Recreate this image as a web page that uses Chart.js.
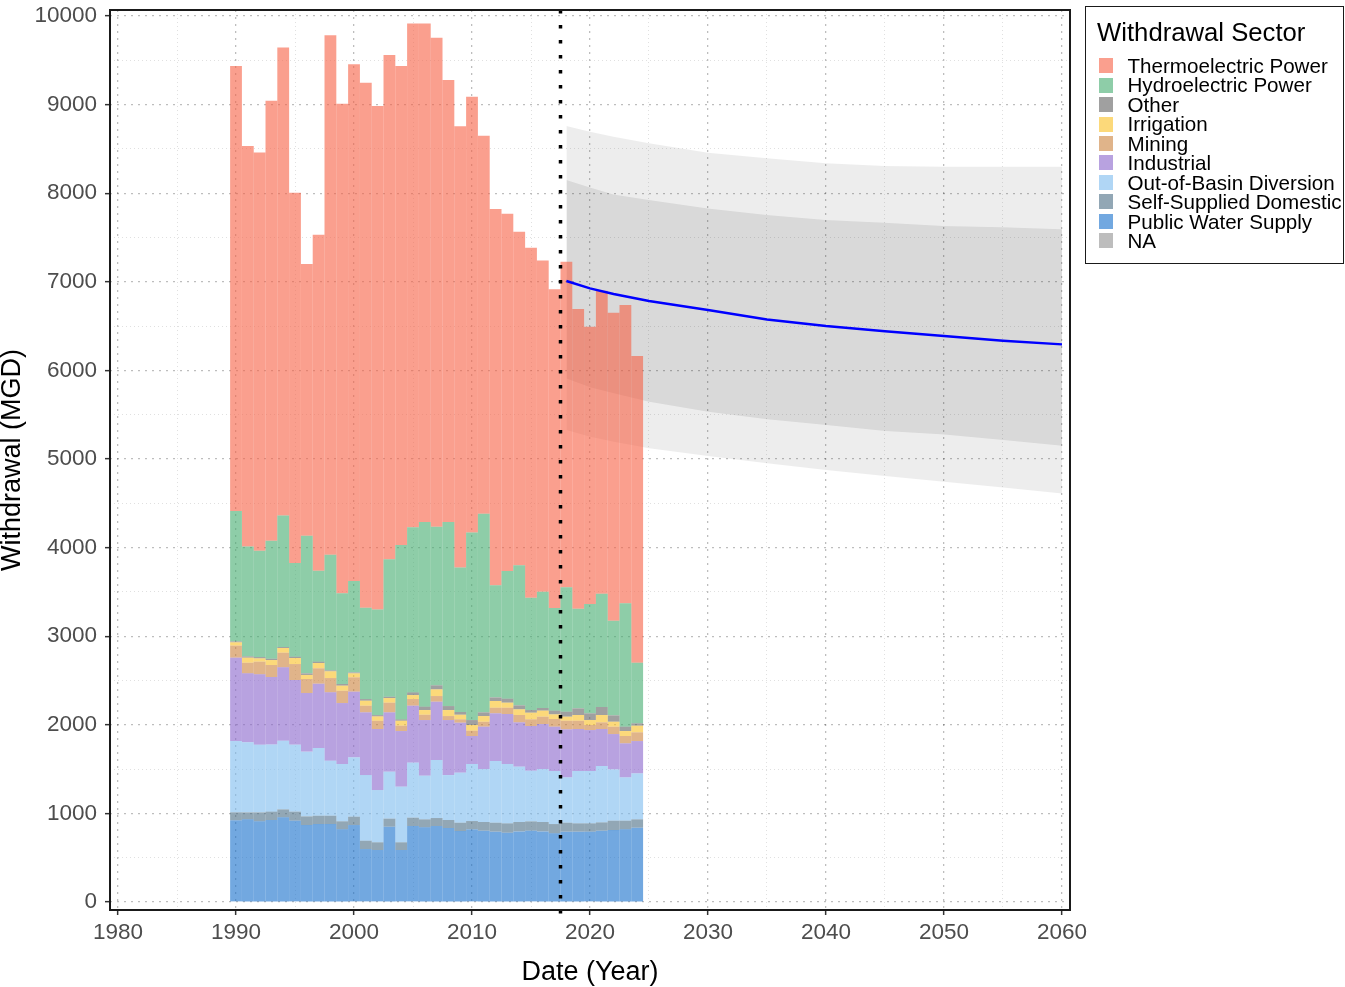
<!DOCTYPE html>
<html>
<head>
<meta charset="utf-8">
<title>Withdrawal by Sector</title>
<script src="https://cdn.jsdelivr.net/npm/chart.js@4.4.1/dist/chart.umd.min.js"></script>
<style>
    html, body { margin: 0; padding: 0; background: #fff; }
    #wrap { position: relative; width: 1345px; height: 987px; }
    #legend {
        position: absolute; left: 1085px; top: 6px;
        width: 259px; height: 258px; box-sizing: border-box;
        border: 1.5px solid #1a1a1a;
        font-family: "Liberation Sans", Arial, sans-serif; color: #000;
    }
    #legend .ttl { position: absolute; left: 11px; top: 10px; font-size: 25.7px; line-height: 30px; white-space: nowrap; }
    #legendItems { position: absolute; left: 0; top: 49px; margin: 0; padding: 0; list-style: none; }
    #legendItems li { position: relative; height: 19.44px; line-height: 19.44px; font-size: 20.6px; padding-left: 41.5px; white-space: nowrap; }
    #legendItems .key { position: absolute; left: 13px; top: 2.2px; width: 14px; height: 15px; }
</style>
</head>
<body>
<div id="wrap">
    <canvas id="withdrawalChart" width="1345" height="987"></canvas>
    <div id="legend">
        <div class="ttl">Withdrawal Sector</div>
        <ul id="legendItems"></ul>
    </div>
</div>
<script>
// Observed withdrawals by sector (MGD), one bar per year
const years = [1990, 1991, 1992, 1993, 1994, 1995, 1996, 1997, 1998, 1999,
               2000, 2001, 2002, 2003, 2004, 2005, 2006, 2007, 2008, 2009,
               2010, 2011, 2012, 2013, 2014, 2015, 2016, 2017, 2018, 2019,
               2020, 2021, 2022, 2023, 2024];

const publicSupply = [922, 933, 911, 926, 956, 918, 869, 880, 880, 820,
                      869, 598, 587, 850, 587, 858, 843, 858, 835, 801,
                      820, 805, 794, 782, 797, 805, 797, 775, 794, 794,
                      794, 805, 812, 820, 839];
const selfSupplied = [90, 79, 101, 94, 90, 102, 98, 94, 94, 91,
                      94, 94, 87, 91, 87, 94, 90, 90, 91, 94,
                      94, 98, 101, 106, 106, 105, 106, 105, 101, 94,
                      94, 94, 106, 98, 94];
const outOfBasin = [805, 790, 764, 759, 775, 756, 730, 764, 621, 647,
                    670, 741, 590, 530, 628, 621, 493, 655, 507, 565,
                    644, 598, 697, 670, 625, 572, 598, 599, 512, 591,
                    591, 636, 579, 489, 519];
const industrial = [941, 779, 794, 761, 828, 730, 662, 726, 772, 688,
                    741, 708, 689, 670, 628, 643, 628, 658, 621, 564,
                    316, 478, 538, 564, 500, 505, 508, 500, 542, 474,
                    462, 418, 399, 384, 365];
const mining = [136, 120, 143, 135, 165, 180, 158, 174, 161, 139,
                162, 75, 93, 109, 60, 75, 60, 64, 45, 38,
                60, 56, 63, 71, 83, 75, 83, 87, 97, 93,
                57, 75, 83, 83, 98];
const irrigation = [37, 57, 37, 56, 53, 68, 46, 60, 76, 57,
                    45, 56, 49, 52, 56, 45, 53, 75, 68, 52,
                    64, 64, 76, 57, 64, 75, 68, 52, 46, 65,
                    56, 83, 56, 56, 75];
const other = [11, 15, 15, 15, 11, 15, 18, 15, 11, 19,
               11, 19, 15, 15, 15, 30, 38, 46, 45, 31,
               56, 42, 41, 45, 45, 30, 30, 42, 56, 75,
               76, 90, 72, 49, 27];
const hydroelectric = [1471, 1241, 1200, 1332, 1486, 1057, 1553, 1027, 1305, 1023,
                       1031, 1031, 1193, 1551, 1968, 1863, 2084, 1790, 2077, 1632,
                       2118, 2242, 1264, 1441, 1580, 1268, 1313, 1158, 1404, 1125,
                       1233, 1279, 1068, 1392, 684];
const thermoelectric = [5023, 4519, 4496, 4966, 5282, 4180, 3067, 3792, 5862, 5526,
                        5832, 5925, 5681, 5692, 5407, 5688, 5628, 5519, 4989, 4978,
                        4917, 4266, 4248, 4033, 3766, 3950, 3739, 3597, 3675, 3382,
                        3130, 3420, 3476, 3367, 3462];
const notAssigned = [];

// Stacking order, bottom to top (NA has no values, legend only)
const sectorNames = ['NA', 'Public Water Supply', 'Self-Supplied Domestic', 'Out-of-Basin Diversion',
                     'Industrial', 'Mining', 'Irrigation', 'Other', 'Hydroelectric Power', 'Thermoelectric Power'];
const sectorValues = [notAssigned, publicSupply, selfSupplied, outOfBasin,
                      industrial, mining, irrigation, other, hydroelectric, thermoelectric];
const sectorColors = ['rgba(145,145,145,0.6)', 'rgba(20,110,203,0.6)', 'rgba(73,108,132,0.6)', 'rgba(123,187,238,0.6)',
                      'rgba(137,100,203,0.6)', 'rgba(203,130,60,0.6)', 'rgba(250,192,33,0.6)', 'rgba(97,97,97,0.6)',
                      'rgba(67,172,110,0.6)', 'rgba(247,95,67,0.6)'];

// Projection (median with 80% and 95% bands)
const forecastYears = [2018, 2020, 2022, 2025, 2030, 2035, 2040, 2045, 2050, 2055, 2060];
const forecastMedian = [7009, 6926, 6862, 6783, 6682, 6576, 6501, 6441, 6388, 6335, 6294];
const band80Hi = [8149, 8066, 7986, 7923, 7829, 7754, 7698, 7667, 7630, 7615, 7592];
const band80Lo = [5910, 5809, 5741, 5647, 5534, 5448, 5384, 5316, 5278, 5214, 5150];
const band95Hi = [8758, 8694, 8638, 8563, 8458, 8394, 8338, 8307, 8300, 8300, 8300];
const band95Lo = [5327, 5252, 5196, 5121, 5034, 4951, 4876, 4808, 4744, 4680, 4612];

const cutoffYear = 2017.5;

// Axis ticks (labelled); grid also gets a line halfway between them
const xTickLabels = [1980, 1990, 2000, 2010, 2020, 2030, 2040, 2050, 2060];
const yTickLabels = [0, 1000, 2000, 3000, 4000, 5000, 6000, 7000, 8000, 9000, 10000];

function withMinor(major) {
    const out = [];
    major.forEach((v, i) => {
        out.push({ value: v, major: true });
        if (i < major.length - 1) out.push({ value: (v + major[i + 1]) / 2, major: false });
    });
    return out;
}

function toPoints(xs, ys) {
    return ys.map((v, i) => ({ x: xs[i], y: v }));
}

const forecastSets = [
    { label: 'median', data: toPoints(forecastYears, forecastMedian), borderColor: '#0000ff',
      borderWidth: 2.5, fill: false, order: 0, stack: 'median' },
    { label: 'hi80', data: toPoints(forecastYears, band80Hi), borderColor: 'rgba(0,0,0,0)',
      backgroundColor: 'rgba(0,0,0,0.085)', fill: '+1', order: 2, stack: 'hi80' },
    { label: 'lo80', data: toPoints(forecastYears, band80Lo), borderColor: 'rgba(0,0,0,0)',
      fill: false, order: 2, stack: 'lo80' },
    { label: 'hi95', data: toPoints(forecastYears, band95Hi), borderColor: 'rgba(0,0,0,0)',
      backgroundColor: 'rgba(0,0,0,0.07)', fill: '+1', order: 2, stack: 'hi95' },
    { label: 'lo95', data: toPoints(forecastYears, band95Lo), borderColor: 'rgba(0,0,0,0)',
      fill: false, order: 2, stack: 'lo95' }
].map(d => Object.assign({ type: 'line', pointRadius: 0, tension: 0 }, d));

const barSets = sectorNames.map((name, i) => ({
    type: 'bar',
    label: name,
    data: toPoints(years, sectorValues[i]),
    backgroundColor: sectorColors[i],
    borderWidth: 0,
    inflateAmount: 0,
    barPercentage: 1,
    categoryPercentage: 1,
    order: 1
}));

// Legend drawn as html list next to the canvas
const htmlLegend = {
    id: 'htmlLegend',
    afterUpdate(chart) {
        const list = document.getElementById('legendItems');
        list.innerHTML = '';
        chart.data.datasets.filter(d => d.type === 'bar').slice().reverse().forEach(d => {
            const li = document.createElement('li');
            const key = document.createElement('span');
            key.className = 'key';
            key.style.background = d.backgroundColor;
            li.appendChild(key);
            li.appendChild(document.createTextNode(d.label));
            list.appendChild(li);
        });
    }
};

// Panel border and dotted cutoff line
const panelExtras = {
    id: 'panelExtras',
    afterDraw(chart) {
        const { ctx, chartArea: a, scales: { x } } = chart;
        const px = x.getPixelForValue(cutoffYear);
        ctx.save();
        ctx.strokeStyle = '#000';
        ctx.lineWidth = 3.5;
        ctx.setLineDash([3.5, 11.5]);
        ctx.beginPath();
        ctx.moveTo(px, a.top);
        ctx.lineTo(px, a.bottom + 4);
        ctx.stroke();
        ctx.setLineDash([]);
        ctx.lineWidth = 2;
        ctx.strokeStyle = '#1a1a1a';
        ctx.strokeRect(a.left, a.top, a.right - a.left, a.bottom - a.top);
        ctx.restore();
    }
};

const isMajor = c => !!(c.tick && c.tick.major);

const gridOpts = {
    offset: false,
    color: c => isMajor(c) ? 'rgba(0,0,0,0.26)' : 'rgba(0,0,0,0.12)',
    lineWidth: c => isMajor(c) ? 1.3 : 1,
    tickColor: c => isMajor(c) ? '#333' : 'rgba(0,0,0,0)',
    tickLength: 5,
    tickWidth: 1.5,
    tickBorderDash: []
};

const borderOpts = {
    display: false,
    dash: c => isMajor(c) ? [2, 5] : [1, 3]
};

Chart.defaults.font.family = '"Liberation Sans", Arial, sans-serif';

new Chart(document.getElementById('withdrawalChart'), {
    data: { datasets: [...forecastSets, ...barSets] },
    options: {
        responsive: false,
        animation: false,
        devicePixelRatio: 1,
        events: [],
        layout: { padding: { left: 0, top: 10, right: 275, bottom: 0 } },
        plugins: {
            legend: { display: false },
            tooltip: { enabled: false }
        },
        scales: {
            x: {
                type: 'linear',
                min: 1979.32,
                max: 2060.68,
                offset: false,
                stacked: true,
                grid: gridOpts,
                border: borderOpts,
                afterBuildTicks: s => { s.ticks = withMinor(xTickLabels); },
                ticks: {
                    autoSkip: false,
                    maxRotation: 0,
                    padding: 4,
                    color: '#4d4d4d',
                    font: { size: 22.5 },
                    callback: (v, i, ticks) => ticks[i].major ? String(v) : ''
                },
                title: { display: true, text: 'Date (Year)', color: '#000', font: { size: 27, lineHeight: 1.1 }, padding: { top: 0, bottom: 0 } },
                afterFit: s => { s.height = 77; s.paddingLeft = 0; s.paddingRight = 0; }
            },
            y: {
                type: 'linear',
                min: -90,
                max: 10068,
                stacked: true,
                grid: gridOpts,
                border: borderOpts,
                afterBuildTicks: s => { s.ticks = withMinor(yTickLabels); },
                ticks: {
                    autoSkip: false,
                    padding: 8,
                    color: '#4d4d4d',
                    font: { size: 22.5 },
                    callback: (v, i, ticks) => ticks[i].major ? String(v) : ''
                },
                title: { display: true, text: 'Withdrawal (MGD)', color: '#000', font: { size: 27, lineHeight: 0.9 }, padding: 0 },
                afterFit: s => { s.width = 110; s.paddingTop = 0; s.paddingBottom = 0; }
            }
        }
    },
    plugins: [htmlLegend, panelExtras]
});
</script>
</body>
</html>
